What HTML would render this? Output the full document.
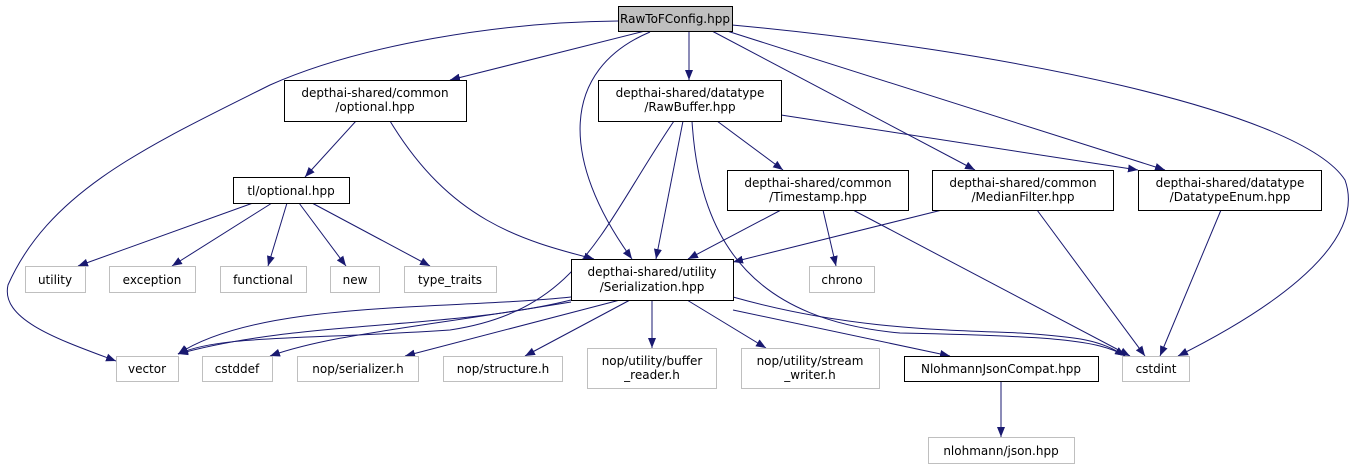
<!DOCTYPE html>
<html><head><meta charset="utf-8"><style>
html,body{margin:0;padding:0;background:#fff;}
svg{display:block;}
text{font-family:"DejaVu Sans","Liberation Sans",sans-serif;font-size:12px;fill:#000;}
</style></head><body>
<svg width="1352" height="469" viewBox="0 0 1352 469" xmlns="http://www.w3.org/2000/svg">
<defs>
<marker id="a" viewBox="0 0 10 10" refX="10" refY="5" markerWidth="10" markerHeight="10" markerUnits="userSpaceOnUse" orient="auto">
<path d="M0,1 L10,5 L0,9 Z" fill="#191970"/>
</marker>
</defs>
<g fill="none" stroke="#191970" stroke-width="1" marker-end="url(#a)">
<path d="M618,21 C500,22 360,45 270,85 C150,145 50,190 8,285 C0,320 60,340 116,361"/>
<path d="M645,31 L450,80"/>
<path d="M650,32 C560,70 560,160 632,259"/>
<path d="M689,31 L689,80"/>
<path d="M712,31 L975,170"/>
<path d="M727,31 L1165,170"/>
<path d="M732,25 C1000,50 1300,110 1345,180 C1370,250 1250,320 1178,356"/>
<path d="M356,121 L305,177"/>
<path d="M390,121 C450,220 520,240 594,259"/>
<path d="M253,203 L78,266"/>
<path d="M272,203 L172,266"/>
<path d="M287,203 L268,266"/>
<path d="M299,203 L346,266"/>
<path d="M312,203 L430,266"/>
<path d="M674,121 C600,230 580,310 450,330 C300,340 220,335 178,354"/>
<path d="M683,121 L656,259"/>
<path d="M692,121 C700,250 760,320 900,333 C1050,336 1100,340 1125,356"/>
<path d="M717,121 L783,170"/>
<path d="M781,115 L1138,170"/>
<path d="M781,210 L688,259"/>
<path d="M823,210 L836,266"/>
<path d="M853,210 L1130,356"/>
<path d="M942,210 L733,262"/>
<path d="M1037,210 L1145,356"/>
<path d="M1221,210 L1160,356"/>
<path d="M571,297 C450,310 260,300 178,354"/>
<path d="M571,300 C450,330 300,320 178,354"/>
<path d="M571,302 C400,330 330,335 270,356"/>
<path d="M620,300 L405,356"/>
<path d="M630,300 L525,356"/>
<path d="M652,300 L652,348"/>
<path d="M687,300 L766,348"/>
<path d="M733,310 L950,356"/>
<path d="M733,297 C850,330 950,330 1020,333 C1080,337 1100,340 1125,356"/>
<path d="M1001,381 L1001,437"/>
</g>
<g stroke-width="1">
<rect x="618.5" y="6.5" width="114" height="25" fill="#bfbfbf" stroke="#000"/>
<g fill="#fff" stroke="#000">
<rect x="284.5" y="80.5" width="182" height="41"/>
<rect x="598.5" y="80.5" width="183" height="41"/>
<rect x="233.5" y="177.5" width="116" height="26"/>
<rect x="571.5" y="259.5" width="162" height="41"/>
<rect x="727.5" y="170.5" width="181" height="40"/>
<rect x="932.5" y="170.5" width="181" height="40"/>
<rect x="1138.5" y="170.5" width="183" height="40"/>
<rect x="904.5" y="356.5" width="194" height="25"/>
</g>
<g fill="#fff" stroke="#bfbfbf">
<rect x="25.5" y="266.5" width="60" height="26"/>
<rect x="109.5" y="266.5" width="86" height="26"/>
<rect x="220.5" y="266.5" width="86" height="26"/>
<rect x="330.5" y="266.5" width="49" height="26"/>
<rect x="404.5" y="266.5" width="92" height="26"/>
<rect x="809.5" y="266.5" width="65" height="26"/>
<rect x="116.5" y="356.5" width="62" height="25"/>
<rect x="202.5" y="356.5" width="70" height="25"/>
<rect x="297.5" y="356.5" width="121" height="25"/>
<rect x="443.5" y="356.5" width="119" height="25"/>
<rect x="587.5" y="348.5" width="129" height="40"/>
<rect x="741.5" y="348.5" width="138" height="40"/>
<rect x="1122.5" y="356.5" width="67" height="25"/>
<rect x="928.5" y="437.5" width="146" height="26"/>
</g>
</g>
<g text-anchor="middle">
<text x="675" y="23">RawToFConfig.hpp</text>
<text x="375" y="97">depthai-shared/common</text>
<text x="375" y="111">/optional.hpp</text>
<text x="690" y="97">depthai-shared/datatype</text>
<text x="690" y="111">/RawBuffer.hpp</text>
<text x="291" y="195">tl/optional.hpp</text>
<text x="652" y="276">depthai-shared/utility</text>
<text x="652" y="291">/Serialization.hpp</text>
<text x="818" y="187">depthai-shared/common</text>
<text x="818" y="201">/Timestamp.hpp</text>
<text x="1023" y="187">depthai-shared/common</text>
<text x="1023" y="201">/MedianFilter.hpp</text>
<text x="1230" y="187">depthai-shared/datatype</text>
<text x="1230" y="201">/DatatypeEnum.hpp</text>
<text x="55" y="284">utility</text>
<text x="152" y="284">exception</text>
<text x="263" y="284">functional</text>
<text x="355" y="284">new</text>
<text x="450" y="284">type_traits</text>
<text x="842" y="284">chrono</text>
<text x="147" y="373">vector</text>
<text x="237" y="373">cstddef</text>
<text x="358" y="373">nop/serializer.h</text>
<text x="503" y="373">nop/structure.h</text>
<text x="652" y="365">nop/utility/buffer</text>
<text x="652" y="379">_reader.h</text>
<text x="810" y="365">nop/utility/stream</text>
<text x="810" y="379">_writer.h</text>
<text x="1001" y="373">NlohmannJsonCompat.hpp</text>
<text x="1156" y="373">cstdint</text>
<text x="1001" y="455">nlohmann/json.hpp</text>
</g>
</svg>
</body></html>
